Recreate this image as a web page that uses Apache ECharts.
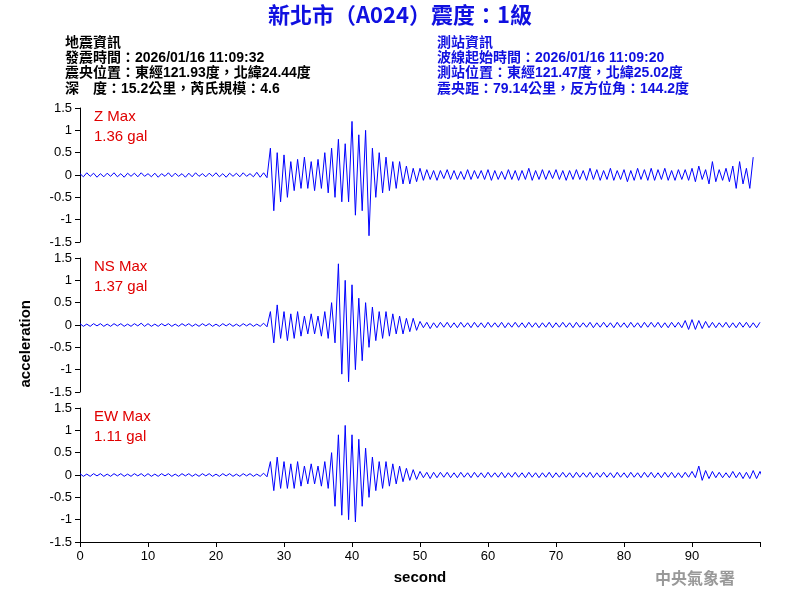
<!DOCTYPE html><html><head><meta charset="utf-8"><script src="https://cdn.jsdelivr.net/npm/echarts@6/dist/echarts.min.js"></script></head><body style="margin:0"><div id="c" style="width:800px;height:600px"></div><script>
const step=0.5;
const zVals=[0.03,-0.04,0.05,-0.03,0.04,-0.05,0.03,-0.04,0.04,-0.03,0.05,-0.04,0.03,-0.05,0.04,-0.03,0.04,-0.04,0.05,-0.03,0.03,-0.04,0.04,-0.05,0.03,-0.03,0.05,-0.04,0.04,-0.03,0.03,-0.05,0.04,-0.04,0.05,-0.03,0.03,-0.04,0.04,-0.03,0.05,-0.04,0.03,-0.05,0.04,-0.03,0.04,-0.04,0.05,-0.03,0.03,-0.04,0.06,-0.05,0.05,-0.06,
0.6,-0.8,0.5,-0.6,0.45,-0.5,0.3,-0.35,0.35,-0.3,0.4,-0.3,0.3,-0.35,0.35,-0.3,0.5,-0.4,0.6,-0.5,0.8,-0.6,0.7,-0.6,1.2,-0.9,0.9,-0.8,1.0,-1.36,0.6,-0.5,0.5,-0.4,0.4,-0.35,0.3,-0.3,0.3,-0.2,0.2,-0.2,0.15,-0.15,0.15,-0.12,
0.12,-0.1,0.1,-0.12,0.1,-0.08,0.12,-0.1,0.1,-0.1,0.08,-0.1,0.12,-0.1,0.1,-0.08,0.1,-0.1,0.12,-0.12,0.1,-0.1,0.08,-0.1,0.12,-0.1,0.1,-0.12,0.1,-0.1,0.15,-0.12,0.1,-0.1,0.12,-0.1,0.1,-0.08,0.12,-0.1,0.1,-0.12,0.1,-0.1,0.12,-0.1,0.1,-0.12,0.15,-0.1,0.12,-0.12,0.1,-0.1,0.15,-0.12,0.1,-0.1,0.12,-0.15,0.1,-0.12,0.15,-0.1,0.12,-0.12,0.15,-0.12,0.12,-0.1,0.15,-0.12,0.1,-0.12,0.12,-0.1,0.12,-0.12,0.15,-0.15,0.2,-0.1,0.12,-0.2,0.3,-0.15,0.12,-0.12,0.15,-0.15,0.2,-0.3,0.3,-0.2,0.15,-0.3,0.4];
const nsVals=[0.03,-0.03,0.02,-0.03,0.03,-0.02,0.03,-0.03,0.02,-0.03,0.03,-0.02,0.03,-0.03,0.02,-0.03,0.03,-0.02,0.04,-0.03,0.03,-0.03,0.02,-0.03,0.03,-0.02,0.03,-0.03,0.02,-0.03,0.03,-0.02,0.03,-0.03,0.02,-0.03,0.03,-0.02,0.03,-0.03,0.02,-0.03,0.03,-0.02,0.03,-0.03,0.02,-0.03,0.03,-0.02,0.03,-0.03,0.02,-0.03,0.04,-0.04,
0.3,-0.4,0.45,-0.3,0.3,-0.35,0.25,-0.3,0.3,-0.25,0.2,-0.2,0.25,-0.2,0.2,-0.25,0.3,-0.3,0.5,-0.4,1.37,-1.1,1.0,-1.27,0.9,-1.0,0.6,-0.8,0.5,-0.5,0.4,-0.35,0.3,-0.3,0.3,-0.25,0.25,-0.2,0.2,-0.2,0.15,-0.15,0.15,-0.12,
0.08,-0.06,0.06,-0.08,0.05,-0.06,0.06,-0.05,0.06,-0.06,0.05,-0.06,0.06,-0.05,0.05,-0.06,0.06,-0.05,0.05,-0.06,0.06,-0.05,0.05,-0.05,0.06,-0.06,0.05,-0.05,0.06,-0.05,0.05,-0.06,0.06,-0.05,0.05,-0.06,0.05,-0.05,0.06,-0.06,0.05,-0.05,0.06,-0.05,0.05,-0.06,0.06,-0.05,0.05,-0.05,0.06,-0.06,0.05,-0.05,0.06,-0.05,0.05,-0.06,0.06,-0.05,0.05,-0.06,0.06,-0.05,0.05,-0.06,0.06,-0.05,0.06,-0.05,0.06,-0.06,0.05,-0.06,0.06,-0.05,0.06,-0.06,0.1,-0.1,0.12,-0.1,0.1,-0.08,0.08,-0.06,0.06,-0.06,0.05,-0.05,0.06,-0.06,0.05,-0.06,0.06,-0.05,0.06,-0.06,0.05,-0.06,0.06];
const ewVals=[0.03,-0.03,0.02,-0.03,0.03,-0.02,0.03,-0.03,0.02,-0.03,0.03,-0.02,0.03,-0.03,0.02,-0.03,0.03,-0.02,0.03,-0.03,0.03,-0.03,0.02,-0.03,0.03,-0.02,0.03,-0.03,0.02,-0.03,0.03,-0.02,0.03,-0.03,0.02,-0.03,0.03,-0.02,0.03,-0.03,0.02,-0.03,0.03,-0.02,0.03,-0.03,0.02,-0.03,0.03,-0.02,0.03,-0.03,0.02,-0.03,0.04,-0.04,
0.3,-0.35,0.4,-0.3,0.3,-0.3,0.25,-0.3,0.3,-0.25,0.2,-0.2,0.25,-0.2,0.2,-0.25,0.3,-0.3,0.5,-0.7,0.9,-0.9,1.11,-1.0,0.9,-1.05,0.8,-0.7,0.6,-0.5,0.4,-0.35,0.3,-0.3,0.3,-0.25,0.25,-0.2,0.2,-0.15,0.15,-0.12,0.12,-0.1,
0.08,-0.06,0.06,-0.08,0.06,-0.06,0.06,-0.05,0.06,-0.06,0.05,-0.06,0.06,-0.05,0.05,-0.06,0.06,-0.05,0.05,-0.06,0.06,-0.05,0.05,-0.05,0.06,-0.06,0.05,-0.05,0.06,-0.05,0.05,-0.06,0.06,-0.05,0.05,-0.06,0.05,-0.05,0.06,-0.06,0.05,-0.05,0.06,-0.05,0.05,-0.06,0.06,-0.05,0.05,-0.05,0.06,-0.06,0.05,-0.05,0.06,-0.05,0.05,-0.06,0.06,-0.05,0.05,-0.06,0.06,-0.05,0.05,-0.06,0.06,-0.05,0.06,-0.06,0.05,-0.06,0.06,-0.05,0.06,-0.06,0.05,-0.06,0.06,-0.05,0.08,-0.06,0.2,-0.12,0.1,-0.08,0.08,-0.06,0.06,-0.06,0.05,-0.06,0.08,-0.06,0.06,-0.08,0.06,-0.08,0.1,-0.08,0.08,-0.1];
const yTicks=[-1.5,-1,-0.5,0,0.5,1,1.5];
const xTicks=[0,10,20,30,40,50,60,70,80,90];
const labels=[['Z Max','1.36 gal'],['NS Max','1.37 gal'],['EW Max','1.11 gal']];
const series=[zVals,nsVals,ewVals];
const tops=[108,258,408];
const c=echarts.init(document.getElementById('c'));
const grid=tops.map(t=>({left:80,width:680,top:t,height:134}));
const xAxis=tops.map((t,i)=>({type:'value',gridIndex:i,min:0,max:100,interval:10,show:i===2,
 axisLine:{onZero:false,lineStyle:{color:'#000'}},axisTick:{length:5,lineStyle:{color:'#000'}},splitLine:{show:false},
 axisLabel:{color:'#000',fontSize:13,fontFamily:'Arial',formatter:v=>xTicks.includes(v)?v:''},
 name:i===2?'second':'',nameLocation:'middle',nameGap:28,nameTextStyle:{color:'#000',fontSize:15,fontWeight:'bold',fontFamily:'Arial'}}));
const yAxis=tops.map((t,i)=>({type:'value',gridIndex:i,min:-1.5,max:1.5,interval:0.5,
 axisLine:{show:true,onZero:false,lineStyle:{color:'#000'}},axisTick:{show:true,length:5,lineStyle:{color:'#000'}},splitLine:{show:false},
 axisLabel:{color:'#000',fontSize:13,fontFamily:'Arial',formatter:v=>yTicks.includes(v)?String(v):''}}));
const txt=(x,y,s,col,size,w,font)=>({type:'text',left:x,top:y,style:{text:s,fill:col,fontSize:size,fontWeight:w||'bold',fontFamily:font||'Arial, Noto Sans CJK TC'}});
const g=[
 {type:'text',left:'center',top:4,style:{text:'新北市（A024）震度：1級',fill:'#1010e0',fontSize:22,fontWeight:'bold',fontFamily:'Noto Sans CJK TC'}},
 txt(65,36,'地震資訊','#000',14),txt(65,51,'發震時間：2026/01/16 11:09:32','#000',14),txt(65,66,'震央位置：東經121.93度，北緯24.44度','#000',14),txt(65,82,'深　度：15.2公里，芮氏規模：4.6','#000',14),
 txt(437,36,'測站資訊','#1010e0',14),txt(437,51,'波線起始時間：2026/01/16 11:09:20','#1010e0',14),txt(437,66,'測站位置：東經121.47度，北緯25.02度','#1010e0',14),txt(437,82,'震央距：79.14公里，反方位角：144.2度','#1010e0',14),
 txt(655,570,'中央氣象署','#999',16,'bold','Noto Sans CJK TC'),
 {type:'text',left:18,top:300,rotation:Math.PI/2,style:{text:'acceleration',fill:'#000',fontSize:15,fontWeight:'bold',fontFamily:'Arial',align:'center'}}
];
labels.forEach((l,i)=>{g.push(txt(94,tops[i]+1,l[0],'#e00000',15,'normal'));g.push(txt(94,tops[i]+21,l[1],'#e00000',15,'normal'));});
c.setOption({animation:false,grid,xAxis,yAxis,graphic:g,
 series:series.map((v,i)=>({type:'line',xAxisIndex:i,yAxisIndex:i,showSymbol:false,lineStyle:{color:'#0000ff',width:1},data:v.map((y,k)=>[k*step,y])}))});
</script></body></html>
